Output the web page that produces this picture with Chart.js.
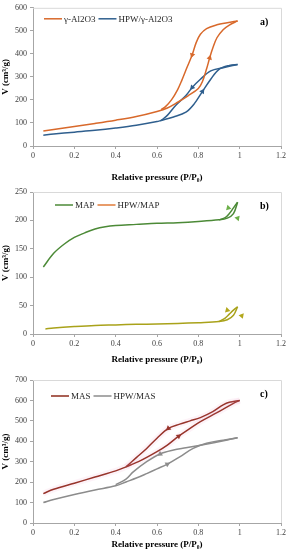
<!DOCTYPE html>
<html>
<head>
<meta charset="utf-8">
<script src="https://cdn.jsdelivr.net/npm/chart.js@4.4.0/dist/chart.umd.min.js"></script>
<style>
  body { margin: 0; background: #fff; }
  .panel { position: absolute; left: 0; }
</style>
</head>
<body>
<canvas id="chartA" class="panel" width="288" height="183" style="top:0"></canvas>
<canvas id="chartB" class="panel" width="288" height="182" style="top:183px"></canvas>
<canvas id="chartC" class="panel" width="288" height="185" style="top:365px"></canvas>
<script>
// common x ticks
var xTicks = [0, 0.2, 0.4, 0.6, 0.8, 1, 1.2];

// a) gamma-Al2O3 and HPW/gamma-Al2O3
var alAdsX = [0.05, 0.1, 0.2, 0.3, 0.4, 0.5, 0.6, 0.65, 0.7, 0.75, 0.8, 0.82, 0.84, 0.855, 0.87, 0.89, 0.92, 0.95, 0.99];
var alAdsV = [65, 72, 85, 98, 112, 128, 150, 165, 190, 218, 250, 280, 335, 383, 425, 470, 505, 525, 543];
var alDesX = [0.62, 0.64, 0.67, 0.7, 0.72, 0.74, 0.77, 0.79, 0.81, 0.84, 0.89, 0.94, 0.99];
var alDesV = [158, 170, 200, 245, 285, 330, 395, 450, 485, 510, 526, 535, 543];
var hpwAlAdsX = [0.05, 0.1, 0.2, 0.3, 0.4, 0.5, 0.6, 0.62, 0.68, 0.74, 0.78, 0.82, 0.86, 0.9, 0.95, 0.99];
var hpwAlAdsV = [47, 52, 60, 68, 78, 90, 106, 111, 126, 147, 183, 237, 290, 333, 350, 354];
var hpwAlDesX = [0.62, 0.65, 0.69, 0.74, 0.77, 0.81, 0.86, 0.92, 0.99];
var hpwAlDesV = [111, 133, 176, 219, 254, 290, 326, 340, 354];

// b) MAP and HPW/MAP
var mapAdsX = [0.05, 0.1, 0.15, 0.2, 0.25, 0.3, 0.35, 0.4, 0.5, 0.6, 0.7, 0.8, 0.9, 0.94, 0.97, 0.99];
var mapAdsV = [118, 142, 158, 170, 178, 185, 189, 191, 193, 195, 196, 198, 201, 204, 212, 232];
var mapDesX = [0.9, 0.93, 0.95, 0.97, 0.99];
var mapDesV = [201, 205, 212, 222, 232];
var mapArrowX = [0.945, 0.99];
var mapArrowV = [222, 204];
var hpwMapAdsX = [0.06, 0.1, 0.2, 0.3, 0.4, 0.5, 0.6, 0.7, 0.8, 0.9, 0.94, 0.97, 0.99];
var hpwMapAdsV = [9, 10.5, 13, 15, 16, 17, 17.5, 18.5, 20, 22, 25, 33, 48];
var hpwMapDesX = [0.9, 0.93, 0.95, 0.97, 0.99];
var hpwMapDesV = [22, 28, 35, 42, 48];
var hpwMapArrowX = [0.94, 1.01];
var hpwMapArrowV = [42, 32];

// c) MAS and HPW/MAS
var masAdsX = [0.05, 0.1, 0.2, 0.3, 0.4, 0.45, 0.52, 0.6, 0.65, 0.705, 0.76, 0.81, 0.89, 0.97, 1.0];
var masAdsV = [144, 165, 195, 225, 255, 275, 305, 349, 381, 425, 463, 496, 540, 586, 600];
var masDesX = [0.45, 0.5, 0.55, 0.6, 0.655, 0.71, 0.76, 0.81, 0.87, 0.92, 0.95, 1.0];
var masDesV = [275, 320, 365, 415, 463, 484, 500, 516, 545, 578, 591, 600];
var hpwMasAdsX = [0.05, 0.1, 0.2, 0.3, 0.4, 0.45, 0.5, 0.55, 0.6, 0.65, 0.71, 0.775, 0.84, 0.92, 0.99];
var hpwMasAdsV = [100, 115, 140, 162, 182, 201, 220, 242, 265, 288, 324, 365, 390, 405, 417];
var hpwMasDesX = [0.4, 0.45, 0.485, 0.55, 0.615, 0.68, 0.74, 0.81, 0.94, 0.99];
var hpwMasDesV = [188, 215, 250, 300, 338, 357, 368, 381, 406, 417];

var serif = "'Liberation Serif', 'DejaVu Serif', serif";
var axisGray = '#A6A6A6';

function pts(xs, vs) {
    return xs.map(function (x, i) { return { x: x, y: vs[i] }; });
}

// line with one direction arrow (triangle) at index arrowAt
function branch(xs, vs, color, arrowAt, rot, width) {
    return {
        data: pts(xs, vs),
        borderColor: color,
        backgroundColor: color,
        borderWidth: width || 1.5,
        showLine: true,
        tension: 0.35,
        pointStyle: 'triangle',
        pointRadius: xs.map(function (x, i) { return i === arrowAt ? 3.2 : 0; }),
        rotation: rot,
        pointBorderWidth: 0
    };
}

function arrows(xs, vs, color, rots) {
    return {
        data: pts(xs, vs),
        showLine: false,
        pointStyle: 'triangle',
        pointRadius: 3.2,
        rotation: rots,
        backgroundColor: color,
        borderColor: color,
        pointBorderWidth: 0
    };
}

var framePlugin = {
    id: 'frame',
    afterDraw: function (chart) {
        var a = chart.chartArea, ctx = chart.ctx, o = chart.options.plugins.frame;
        ctx.save();
        ctx.strokeStyle = '#D9D9D9';
        ctx.lineWidth = 1;
        ctx.beginPath();
        ctx.moveTo(a.left, a.top + 0.5);
        ctx.lineTo(a.right + 0.5, a.top + 0.5);
        ctx.lineTo(a.right + 0.5, a.bottom);
        ctx.stroke();

        // legend
        ctx.font = '9px ' + serif;
        ctx.textBaseline = 'middle';
        var x = o.legendX, y = a.top + o.legendDy;
        o.legend.forEach(function (item) {
            ctx.strokeStyle = item.color;
            ctx.lineWidth = 1.5;
            ctx.beginPath();
            ctx.moveTo(x, y);
            ctx.lineTo(x + 18, y);
            ctx.stroke();
            x += 20;
            ctx.fillStyle = '#262626';
            ctx.fillText(item.text, x, y + 0.5);
            x += ctx.measureText(item.text).width + 3;
        });

        // panel letter
        ctx.font = 'bold 10px ' + serif;
        ctx.fillStyle = '#000';
        ctx.fillText(o.letter, a.right - 21, a.top + o.letterDy);
        ctx.restore();
    }
};

function makeChart(id, datasets, yMax, yStep, top, bottom, frame) {
    var h = document.getElementById(id).height;
    return new Chart(document.getElementById(id).getContext('2d'), {
        type: 'scatter',
        data: { datasets: datasets },
        plugins: [framePlugin],
        options: {
            responsive: false,
            animation: false,
            layout: { padding: { top: top, right: 7, left: 0, bottom: 0 } },
            plugins: {
                legend: { display: false },
                tooltip: { enabled: false },
                frame: frame
            },
            scales: {
                x: {
                    type: 'linear',
                    min: 0, max: 1.2,
                    afterBuildTicks: function (s) { s.ticks = xTicks.map(function (v) { return { value: v }; }); },
                    afterFit: function (s) { s.height = h - bottom; },
                    ticks: {
                        color: '#404040', font: { family: serif, size: 8 }, padding: 2,
                        maxRotation: 0,
                        callback: function (v) { return String(Math.round(v * 10) / 10); }
                    },
                    grid: { display: true, drawOnChartArea: false, drawTicks: true, tickLength: 3, color: axisGray },
                    border: { color: axisGray },
                    title: {
                        display: true, text: 'Relative pressure (P/P\u2080)', color: '#000',
                        font: { family: serif, size: 9, weight: 'bold' }, padding: { top: 0, bottom: 0 }
                    }
                },
                y: {
                    min: 0, max: yMax,
                    afterFit: function (s) { s.width = 33; },
                    ticks: { stepSize: yStep, color: '#404040', font: { family: serif, size: 8 }, padding: 3 },
                    grid: { display: true, drawOnChartArea: false, drawTicks: true, tickLength: 3, color: axisGray },
                    border: { color: axisGray },
                    title: {
                        display: true, text: 'V (cm\u00b3/g)', color: '#000',
                        font: { family: serif, size: 9, weight: 'bold' }, padding: { top: 0, bottom: 0 }
                    }
                }
            }
        }
    });
}

var cOrange = '#D8692B', cBlue = '#2F5F8E';
var cGreen = '#4C8A37', cOlive = '#A9A21A', cLegendOrange = '#E07B39';
var cMas = '#8E2B1B', cGray = '#8C8C8C';

var chartA = makeChart('chartA', [
    branch(alAdsX, alAdsV, cOrange, 13, 18),
    branch(alDesX, alDesV, cOrange, 6, 198),
    branch(hpwAlAdsX, hpwAlAdsV, cBlue, 11, 34),
    branch(hpwAlDesX, hpwAlDesV, cBlue, 4, 221)
], 600, 100, 6, 146, {
    legendX: 44, legendDy: 11, letter: 'a)', letterDy: 15,
    legend: [{ text: '\u03b3-Al2O3', color: cOrange }, { text: 'HPW/\u03b3-Al2O3', color: cBlue }]
});

var chartB = makeChart('chartB', [
    branch(mapAdsX, mapAdsV, cGreen, -1, 0),
    branch(mapDesX, mapDesV, cGreen, -1, 0),
    arrows(mapArrowX, mapArrowV, '#6DB04A', [225, 40]),
    branch(hpwMapAdsX, hpwMapAdsV, cOlive, -1, 0),
    branch(hpwMapDesX, hpwMapDesV, cOlive, -1, 0),
    arrows(hpwMapArrowX, hpwMapArrowV, '#B3A81C', [225, 40])
], 250, 50, 9, 151, {
    legendX: 55, legendDy: 13, letter: 'b)', letterDy: 14,
    legend: [{ text: 'MAP', color: cGreen }, { text: 'HPW/MAP', color: cLegendOrange }]
});

// faint pink glow under MAS lines
function glow(xs, vs) {
    return branch(xs, vs, 'rgba(240,140,190,0.10)', -1, 0, 6);
}

var chartC = makeChart('chartC', [
    glow(masAdsX, masAdsV),
    glow(masDesX, masDesV),
    branch(masAdsX, masAdsV, cMas, 9, 54),
    branch(masDesX, masDesV, cMas, 4, 229),
    branch(hpwMasAdsX, hpwMasAdsV, cGray, 9, 62),
    branch(hpwMasDesX, hpwMasDesV, cGray, 4, 237)
], 700, 100, 15, 158, {
    legendX: 51, legendDy: 16, letter: 'c)', letterDy: 14,
    legend: [{ text: 'MAS', color: cMas }, { text: 'HPW/MAS', color: cGray }]
});
</script>
</body>
</html>
